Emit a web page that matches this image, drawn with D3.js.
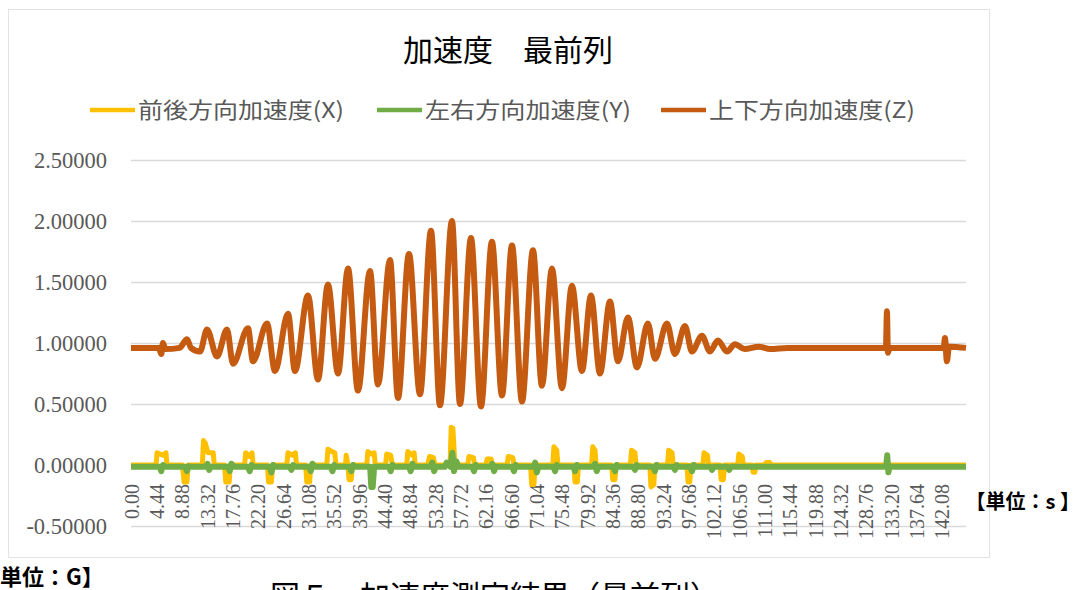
<!DOCTYPE html>
<html><head><meta charset="utf-8">
<script src="https://cdn.jsdelivr.net/npm/d3@7"></script>
<style>html,body{margin:0;padding:0;background:#fff;} svg{display:block;}</style>
</head><body><svg id="c" width="1086" height="590"></svg>
<script>
// ---------- data (time in s, acceleration in G) ----------
const title = "加速度　最前列";
const seriesNames = ["前後方向加速度(X)", "左右方向加速度(Y)", "上下方向加速度(Z)"];
const seriesColors = ["#FFC000", "#70AD47", "#C55A11"];
const yTicks = [-0.5, 0, 0.5, 1.0, 1.5, 2.0, 2.5];
const xTickLabels = ["0.00","4.44","8.88","13.32","17.76","22.20","26.64","31.08","35.52","39.96","44.40","48.84","53.28","57.72","62.16","66.60","71.04","75.48","79.92","84.36","88.80","93.24","97.68","102.12","106.56","111.00","115.44","119.88","124.32","128.76","133.20","137.64","142.08"];
const timeEnd = 146.3;

// 前後方向加速度(X)
const accX = [
 [0,0.00],[4.4,0.00],[4.55,0.10],[5.6,0.08],[6.13,0.10],[6.3,0.00],
 [9.0,0.00],[9.3,-0.14],[9.8,-0.14],[10.0,0.00],
 [12.5,0.00],[12.7,0.20],[13.0,0.18],[13.5,0.10],[14.4,0.10],[14.6,0.00],
 [16.4,0.00],[16.6,-0.14],[17.2,-0.14],[17.4,0.00],
 [19.9,0.00],[20.1,0.10],[20.7,0.07],[21.2,0.10],[21.4,0.00],
 [23.9,0.00],[24.1,-0.14],[24.6,-0.14],[24.8,0.00],
 [27.3,0.00],[27.5,0.10],[28.2,0.08],[28.8,0.10],[29.0,0.00],
 [30.6,0.00],[30.8,-0.14],[31.3,-0.14],[31.5,0.00],
 [34.3,0.00],[34.5,0.13],[35.2,0.11],[35.7,0.10],[35.9,0.00],
 [37.6,0.00],[37.7,0.08],[38.0,0.00],[38.2,-0.12],[38.6,-0.12],[38.8,0.00],
 [41.3,0.00],[41.5,0.11],[42.2,0.09],[42.6,0.10],[42.8,0.00],
 [44.6,0.00],[44.8,0.09],[45.5,0.08],[45.8,0.00],
 [48.3,0.00],[48.5,0.11],[49.3,0.08],[49.6,0.10],[49.8,0.00],
 [52.0,0.00],[52.3,0.07],[53.0,0.06],[53.2,0.00],
 [55.9,0.00],[56.1,0.31],[56.4,0.30],[56.7,0.05],[57.0,0.00],
 [59.0,0.00],[59.2,0.07],[60.0,0.06],[60.2,0.00],
 [62.2,0.00],[62.4,0.05],[63.1,0.05],[63.3,0.00],
 [65.9,0.00],[66.1,0.07],[66.9,0.06],[67.1,0.00],
 [70.0,0.00],[70.2,-0.16],[70.6,-0.16],[70.8,0.00],
 [73.9,0.00],[74.1,0.15],[74.6,0.12],[74.8,0.00],
 [77.6,0.00],[77.8,-0.14],[78.2,-0.14],[78.4,0.00],
 [80.7,0.00],[80.9,0.15],[81.3,0.12],[81.5,0.00],
 [84.2,0.00],[84.4,-0.12],[84.8,-0.12],[85.0,0.00],
 [87.5,0.00],[87.7,0.12],[88.3,0.10],[88.5,0.00],
 [90.9,0.00],[91.1,-0.18],[91.6,-0.16],[91.8,0.00],
 [94.0,0.00],[94.2,0.12],[94.8,0.10],[95.0,0.00],
 [97.4,0.00],[97.6,-0.14],[97.9,-0.14],[98.1,0.00],
 [100.2,0.00],[100.4,0.10],[101.0,0.08],[101.2,0.00],
 [103.2,0.00],[103.4,-0.12],[103.8,-0.12],[104.0,0.00],
 [106.3,0.00],[106.5,0.09],[107.1,0.07],[107.3,0.00],
 [108.8,0.00],[109.0,-0.06],[109.3,-0.06],[109.5,0.00],
 [111.0,0.00],[111.3,0.02],[111.9,0.02],[112.1,0.00],
 [146.3,0.00]
];

// 左右方向加速度(Y)
const accY = [
 [0,-0.015],[5.0,-0.015],[5.3,-0.05],[5.6,0.00],[6.0,-0.015],
 [9.5,-0.015],[9.8,-0.05],[10.1,-0.01],[10.5,-0.015],
 [13.2,-0.015],[13.4,0.01],[13.7,-0.04],[14.0,-0.015],
 [17.0,-0.015],[17.3,-0.05],[17.6,0.01],[18.0,-0.015],
 [20.5,-0.015],[20.8,-0.05],[21.1,0.00],[21.5,-0.015],
 [24.3,-0.015],[24.6,-0.06],[24.9,0.00],[25.3,-0.015],
 [27.8,-0.015],[28.1,-0.04],[28.4,0.00],[28.8,-0.015],
 [31.2,-0.015],[31.5,-0.05],[31.8,0.01],[32.2,-0.015],
 [35.0,-0.015],[35.3,-0.05],[35.6,0.00],[36.0,-0.015],
 [38.3,-0.015],[38.6,-0.05],[38.9,0.00],[39.2,-0.015],
 [41.9,-0.015],[42.1,-0.18],[42.35,-0.18],[42.6,-0.015],
 [45.2,-0.015],[45.5,-0.05],[45.8,0.00],[46.1,-0.015],
 [48.7,-0.015],[49.0,-0.05],[49.3,0.01],[49.6,-0.015],
 [52.5,-0.015],[52.8,0.02],[53.1,-0.05],[53.4,-0.015],
 [55.0,-0.015],[55.3,0.02],[56.0,-0.015],[56.3,0.10],[56.6,-0.05],[57.0,0.03],[57.4,-0.015],
 [59.8,-0.015],[60.1,-0.05],[60.4,0.00],[60.7,-0.015],
 [63.0,-0.015],[63.3,0.01],[63.6,-0.05],[63.9,-0.015],
 [66.8,-0.015],[67.1,-0.05],[67.4,0.00],[67.7,-0.015],
 [70.5,-0.015],[70.8,0.02],[71.1,-0.06],[71.4,-0.015],
 [74.0,-0.015],[74.3,-0.05],[74.6,0.00],[74.9,-0.015],
 [77.5,-0.015],[77.8,-0.05],[78.1,0.00],[78.4,-0.015],
 [81.0,-0.015],[81.3,0.01],[81.6,-0.05],[81.9,-0.015],
 [84.5,-0.015],[84.8,-0.05],[85.1,0.00],[85.4,-0.015],
 [88.0,-0.015],[88.3,-0.04],[88.6,0.00],[88.9,-0.015],
 [91.5,-0.015],[91.8,-0.05],[92.1,0.00],[92.4,-0.015],
 [95.0,-0.015],[95.3,-0.04],[95.6,0.00],[95.9,-0.015],
 [98.0,-0.015],[98.3,-0.05],[98.6,0.00],[98.9,-0.015],
 [101.5,-0.015],[101.8,-0.04],[102.1,-0.015],
 [104.5,-0.015],[104.8,-0.04],[105.1,-0.015],
 [132.3,-0.015],[132.5,0.08],[132.7,-0.06],[132.9,-0.015],
 [146.3,-0.015]
];

// 上下方向加速度(Z)
const accZ = [
 [0,0.96],[4.9,0.96],[5.3,0.91],[5.6,1.00],[6.0,0.95],[8.5,0.96],
 [9.81,1.03],[10.5,0.96],[12.09,0.93],[13.31,1.11],[15.07,0.89],
 [16.82,1.11],[17.87,0.83],[20.50,1.12],[21.37,0.85],[23.83,1.16],
 [25.23,0.77],[27.51,1.24],[28.73,0.77],[31.01,1.39],[32.76,0.70],
 [34.51,1.48],[36.27,0.75],[38.02,1.61],[39.77,0.61],[41.87,1.59],
 [43.27,0.66],[45.38,1.68],[46.78,0.55],[48.70,1.73],[50.63,0.58],
 [52.56,1.92],[54.13,0.49],[56.24,2.00],[57.64,0.50],[59.57,1.86],
 [61.32,0.48],[63.24,1.83],[65.00,0.57],[66.75,1.80],[68.50,0.52],
 [70.43,1.76],[72.00,0.65],[73.76,1.61],[75.51,0.63],[77.26,1.47],
 [79.01,0.77],[80.59,1.39],[82.17,0.75],[83.92,1.34],[85.32,0.85],
 [87.07,1.21],[88.65,0.80],[90.57,1.16],[91.80,0.87],[93.90,1.16],
 [95.30,0.91],[97.06,1.14],[98.28,0.93],[100.04,1.06],[101.44,0.93],
 [102.84,1.02],[104.42,0.93],[105.82,0.99],[107.5,0.95],[110.0,0.97],
 [112.0,0.95],[115.0,0.96],[132.27,0.96],[132.45,1.26],[132.62,0.92],
 [132.9,0.96],[142.4,0.96],[142.61,1.04],[142.96,0.85],[143.31,0.97],
 [146.3,0.96]
];

// ---------- drawing ----------
const svg = d3.select("#c");
const W = 1086, H = 590;
const plot = {left: 131, right: 966, top: 160, bottom: 526};

svg.append("rect").attr("x", 0).attr("y", 0).attr("width", W).attr("height", H).attr("fill", "#fff");
svg.append("rect").attr("x", 8.5).attr("y", 9.5).attr("width", 981).attr("height", 548)
  .attr("fill", "#fff").attr("stroke", "#E3E3E3").attr("stroke-width", 1);

const x = d3.scaleLinear().domain([0, timeEnd]).range([plot.left, plot.right]);
const y = d3.scaleLinear().domain([-0.5, 2.5]).range([plot.bottom, plot.top]);

// gridlines + y labels
const yAxis = svg.append("g").attr("transform", `translate(${plot.left},0)`)
  .call(d3.axisLeft(y).tickValues(yTicks).tickFormat(d => d.toFixed(5))
        .tickSize(-(plot.right - plot.left)).tickPadding(24));
yAxis.select(".domain").remove();
yAxis.selectAll(".tick line").attr("stroke", "#D9D9D9").attr("stroke-width", 1.3);
yAxis.selectAll(".tick text").attr("fill", "#595959")
  .style("font-family", "'Liberation Serif','DejaVu Serif',serif").style("font-size", "22.5px");

// x labels (category labels, rotated)
const xAxis = svg.append("g").attr("transform", `translate(0,${y(0)})`)
  .call(d3.axisBottom(x).tickValues(xTickLabels.map(Number)).tickFormat((d, i) => xTickLabels[i]).tickSize(0));
xAxis.select(".domain").remove();
xAxis.selectAll(".tick text")
  .attr("transform", "rotate(-90)")
  .attr("x", -19).attr("y", 0).attr("dy", "0.35em")
  .attr("text-anchor", "end")
  .attr("fill", "#595959")
  .style("font-family", "'Liberation Serif','DejaVu Serif',serif").style("font-size", "20px");

// lines
const line = d3.line().x(d => x(d[0])).y(d => y(d[1]));
const lineSmooth = d3.line().x(d => x(d[0])).y(d => y(d[1])).curve(d3.curveMonotoneX);
svg.append("path").datum(accX).attr("d", line).attr("fill", "none")
  .attr("stroke", seriesColors[0]).attr("stroke-width", 5).attr("stroke-linejoin", "round");
svg.append("path").datum(accY).attr("d", line).attr("fill", "none")
  .attr("stroke", seriesColors[1]).attr("stroke-width", 6).attr("stroke-linejoin", "round");
svg.append("path").datum(accZ).attr("d", lineSmooth).attr("fill", "none")
  .attr("stroke", seriesColors[2]).attr("stroke-width", 6).attr("stroke-linejoin", "round");

// title
svg.append("text").attr("x", 508).attr("y", 61).attr("text-anchor", "middle")
  .style("font-family", "'Noto Sans CJK JP',sans-serif").style("font-size", "30px").attr("fill", "#000")
  .text(title);

// legend
const legendX = [90, 377, 661];
seriesNames.forEach((n, i) => {
  const g = svg.append("g");
  g.append("line").attr("x1", legendX[i]).attr("x2", legendX[i] + 45).attr("y1", 110).attr("y2", 110)
    .attr("stroke", seriesColors[i]).attr("stroke-width", 4.5);
  g.append("text").attr("x", legendX[i] + 48).attr("y", 118)
    .attr("fill", "#595959")
    .style("font-family", "'Noto Sans CJK JP',sans-serif").style("font-size", "22px")
    .attr("textLength", 206).attr("lengthAdjust", "spacingAndGlyphs")
    .text(n);
});

// unit labels
svg.append("text").attr("x", 1080).attr("y", 509).attr("text-anchor", "end")
  .style("font-family", "'Noto Sans CJK JP',sans-serif").style("font-size", "20px").style("font-weight", "bold")
  .attr("fill", "#000").text("【単位：s 】");
svg.append("text").attr("x", 0).attr("y", 585)
  .style("font-family", "'Noto Sans CJK JP',sans-serif").style("font-size", "22px").style("font-weight", "bold")
  .attr("fill", "#000").text("単位：G】");

// caption (cut off at the bottom edge, as in the source)
svg.append("text").attr("x", 270).attr("y", 607)
  .style("font-family", "'Noto Sans CJK JP',sans-serif").style("font-size", "30px")
  .attr("fill", "#000").text("図５　加速度測定結果（最前列）");
</script></body></html>
